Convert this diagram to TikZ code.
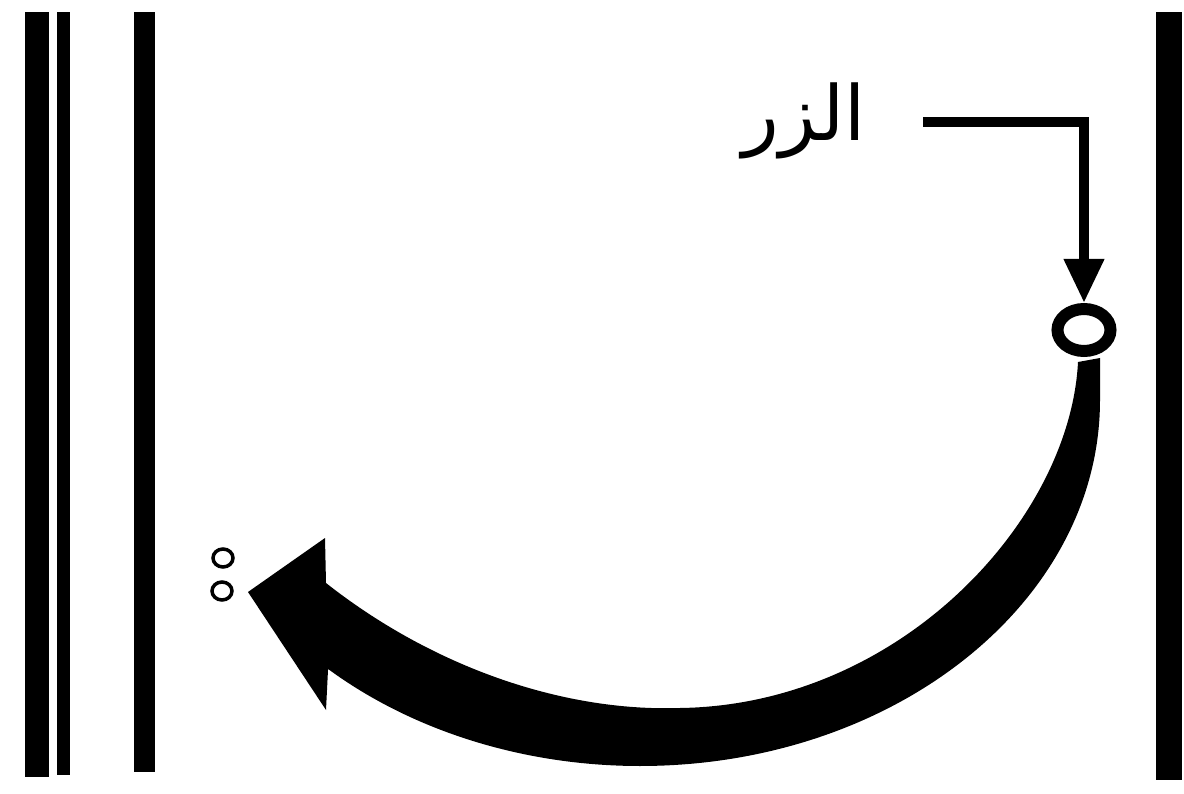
\documentclass[tikz,border=0pt]{standalone}
\usepackage{fontspec}
\usetikzlibrary{arrows.meta,shapes.geometric}
\newfontfamily\arabicfont[Script=Arabic]{DejaVu Sans}
\TeXXeTstate=1
\begin{document}
\begin{tikzpicture}[x=1pt,y=-1pt,
  bar/.style={fill=black},
  leader/.style={line width=10pt,-{Triangle[width=38pt,length=44pt]}},
  dot/.style={draw,line width=3.5pt,ellipse,minimum width=20pt,minimum height=18pt,inner sep=0pt}]
\useasboundingbox (0,0) rectangle (1184,794);
% vertical bars
\fill[bar] (25,12) rectangle (49,777);
\fill[bar] (57,12) rectangle (70,775);
\fill[bar] (134,12) rectangle (155,772);
\fill[bar] (1156,12) rectangle (1182,780);
% label and button
\node[font=\arabicfont\fontsize{76}{78}\selectfont,inner sep=0pt] (lbl) at (804,121) {\beginR الزر\endR};
\node[draw,line width=12pt,ellipse,minimum width=53pt,minimum height=42pt,inner sep=0pt] (btn) at (1084,330) {};
\coordinate (lstart) at (923,122);
\draw[leader] (lstart) -| (btn.north);
% small circles
\node[dot] (d1) at (223,558) {};
\node[dot] (d2) at (222,591) {};
% big curved arrow
\fill (1078,362) -- (1100,358) -- (1100,400)
  arc[start angle=0,end angle=132.7,x radius=460,y radius=366]
  -- (326,710) -- (248,592) -- (325,538) -- (326,583)
  .. controls (430,665) and (560,712) .. (680,708)
  .. controls (900,705) and (1070,520) .. (1078,362)
  -- cycle;
\end{tikzpicture}
\end{document}
